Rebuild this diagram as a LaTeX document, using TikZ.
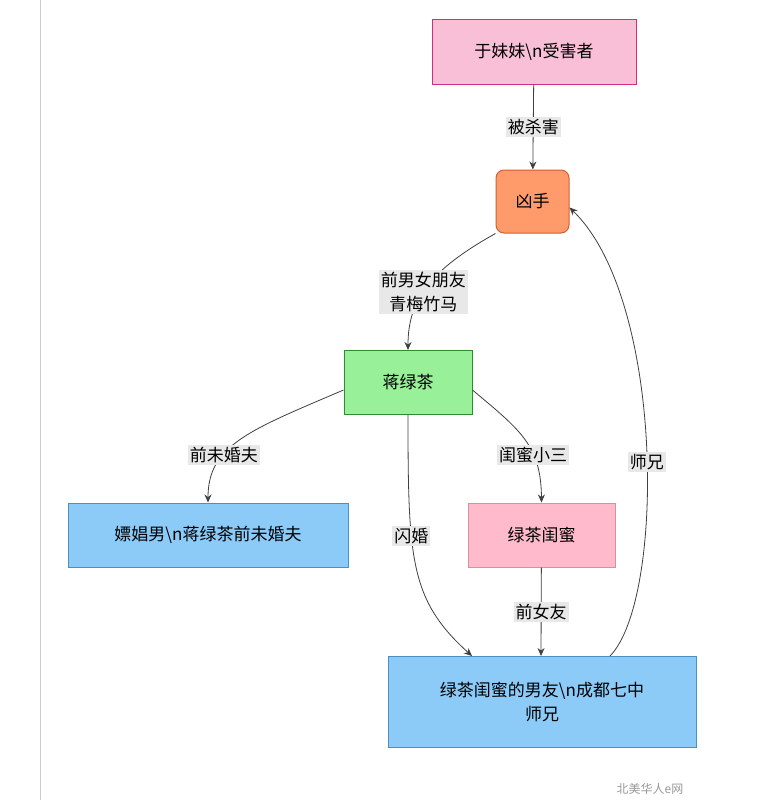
\documentclass[tikz,border=0pt]{standalone}
\usepackage{fontspec}
\setmainfont{Noto Sans CJK SC}
\usetikzlibrary{arrows.meta}
\begin{document}
\begin{tikzpicture}[x=1pt,y=-1pt,
  box/.style={draw, line width=1pt, minimum height=64pt, align=center, font=\fontsize{17}{24}\selectfont, inner sep=2pt},
  lbl/.style={fill=gray!18, font=\fontsize{17}{24}\selectfont, inner sep=2pt, align=center},
  arr/.style={draw=black!75, line width=0.8pt, -{Stealth[length=8pt,width=7pt]}}]
\useasboundingbox (0,0) rectangle (766,800);
\fill[white] (0,0) rectangle (766,800);
\draw[gray!40, line width=1pt] (40,0) -- (40,800);
\definecolor{pinkA}{HTML}{F9BFD6}\definecolor{magA}{HTML}{D0307F}
\definecolor{orA}{HTML}{FF9A6A}\definecolor{orB}{HTML}{D06030}
\definecolor{grA}{HTML}{98F098}\definecolor{grB}{HTML}{2E8B2E}
\definecolor{blA}{HTML}{8CCBF7}\definecolor{blB}{HTML}{4A90C8}
\definecolor{pkB}{HTML}{FFBBCB}\definecolor{pkC}{HTML}{D8909E}
\node[box, fill=pinkA, draw=magA, minimum width=204pt] (a) at (534,52) {于妹妹\textbackslash n受害者};
\node[box, fill=orA, draw=orB, minimum width=73pt, minimum height=63pt, rounded corners=8pt] (k) at (532.5,201.5) {凶手};
\node[box, fill=grA, draw=grB, minimum width=128pt] (j) at (408,382) {蒋绿茶};
\node[box, fill=blA, draw=blB, minimum width=280pt] (p) at (208,535) {嫖娼男\textbackslash n蒋绿茶前未婚夫};
\node[box, fill=pkB, draw=pkC, minimum width=147pt] (g) at (541.5,535) {绿茶闺蜜};
\node[box, fill=blA, draw=blB, minimum width=308pt, minimum height=91pt] (b) at (542,701.5) {绿茶闺蜜的男友\textbackslash n成都七中\\师兄};
\draw[arr] (a) -- node[lbl]{被杀害} (k);
\draw[arr] (k.south west) .. controls (430,270) and (408,300) .. node[lbl, pos=0.55]{前男女朋友\\青梅竹马} (j.south |- 0,350);
\draw[arr] ([yshift=-8pt]j.west) .. controls (250,430) and (208,445) .. node[lbl,pos=0.65]{前未婚夫} (p.north);
\draw[arr] ([yshift=-8pt]j.east) .. controls (520,430) and (541,445) .. node[lbl,pos=0.65]{闺蜜小三} (g.north);
\draw[arr] ([xshift=0pt]j.south) .. controls (408,560) and (410,600) .. node[lbl,pos=0.36]{闪婚} (472,656);
\draw[arr] (g) -- node[lbl]{前女友} (541,656);
\draw[arr] (610,656) .. controls (665,600) and (665,300) .. node[lbl,pos=0.47]{师兄} ([yshift=-6pt]k.east);
\node[text=gray!80, font=\fontsize{12}{14}\selectfont] (w) at (650,789) {北美华人e网};
\end{tikzpicture}
\end{document}
